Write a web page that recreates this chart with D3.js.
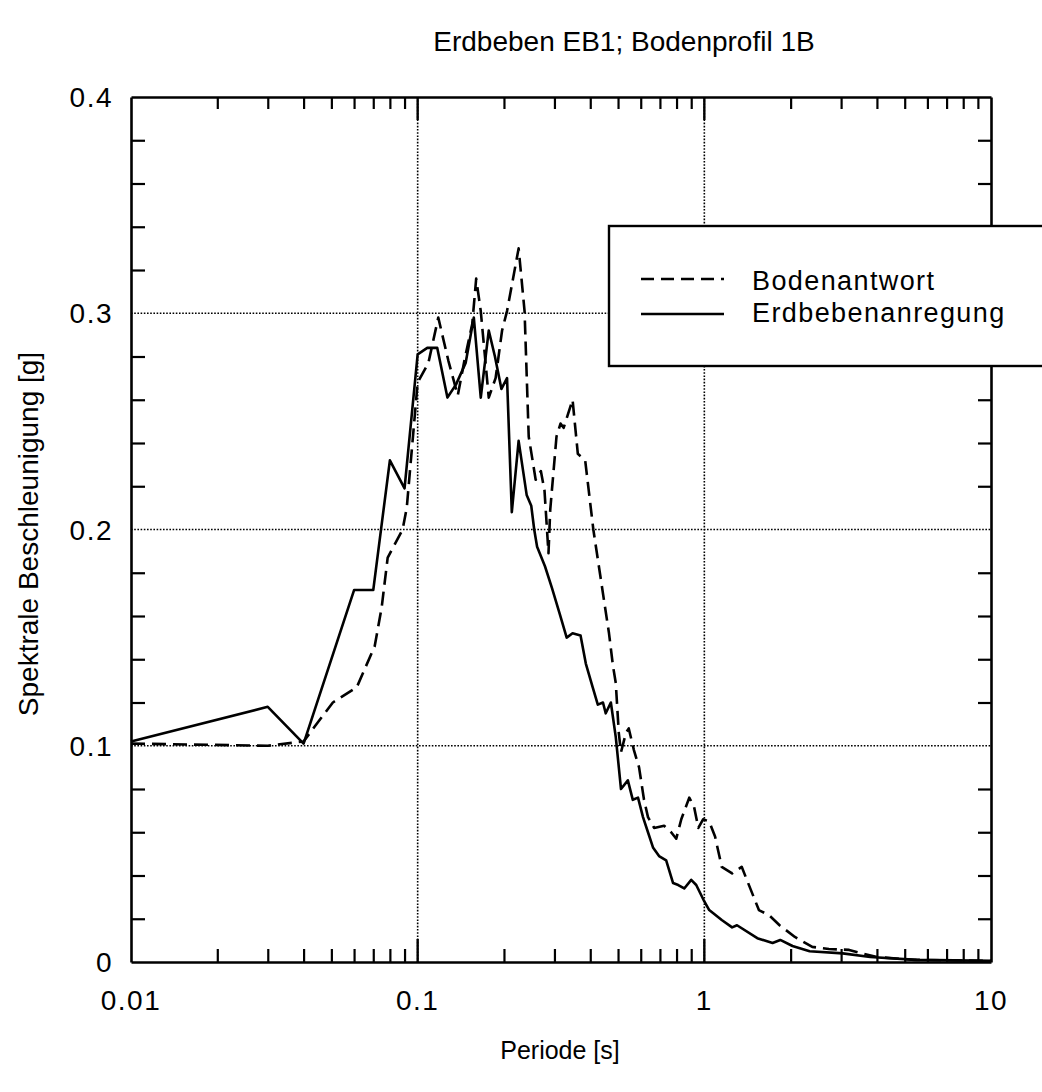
<!DOCTYPE html>
<html>
<head>
<meta charset="utf-8">
<script src="https://cdn.jsdelivr.net/npm/d3@7"></script>
<style>
  html, body { margin: 0; padding: 0; background: #fff; }
  svg { display: block; font-family: "Liberation Sans", Arial, Helvetica, sans-serif; }
</style>
</head>
<body>
<svg id="chart" width="1042" height="1092"></svg>
<script>
// Spectral acceleration vs. period, earthquake EB1, soil profile 1B
const title = "Erdbeben EB1; Bodenprofil 1B";
const xLabel = "Periode [s]";
const yLabel = "Spektrale Beschleunigung [g]";

// Input motion (Erdbebenanregung)
const anregungPeriod = [0.01, 0.03, 0.04, 0.06, 0.07, 0.08, 0.09, 0.1, 0.108, 0.117, 0.127, 0.136, 0.147, 0.157, 0.166, 0.177, 0.186, 0.196, 0.205, 0.213, 0.225, 0.24, 0.249, 0.255, 0.261, 0.278, 0.294, 0.313, 0.331, 0.347, 0.37, 0.386, 0.408, 0.425, 0.443, 0.453, 0.472, 0.491, 0.512, 0.541, 0.563, 0.587, 0.611, 0.636, 0.662, 0.695, 0.736, 0.778, 0.811, 0.851, 0.9, 0.937, 1.0, 1.04, 1.15, 1.25, 1.3, 1.53, 1.73, 1.84, 2.03, 2.33, 3.04, 3.79, 5.5, 10];
const anregungSa = [0.102, 0.118, 0.101, 0.172, 0.172, 0.232, 0.219, 0.281, 0.284, 0.284, 0.261, 0.267, 0.277, 0.298, 0.261, 0.292, 0.280, 0.265, 0.270, 0.208, 0.241, 0.216, 0.211, 0.2, 0.192, 0.183, 0.173, 0.161, 0.150, 0.152, 0.151, 0.138, 0.127, 0.119, 0.120, 0.115, 0.120, 0.104, 0.080, 0.084, 0.075, 0.076, 0.067, 0.060, 0.053, 0.049, 0.047, 0.0365, 0.0356, 0.034, 0.038, 0.0356, 0.028, 0.024, 0.0194, 0.016, 0.017, 0.011, 0.0088, 0.0102, 0.0074, 0.005, 0.004, 0.0023, 0.001, 0.0005];

// Soil response (Bodenantwort)
const antwortPeriod = [0.01, 0.03, 0.04, 0.0438, 0.0506, 0.0613, 0.0708, 0.0749, 0.0786, 0.0886, 0.0916, 0.1, 0.109, 0.118, 0.128, 0.138, 0.146, 0.155, 0.160, 0.166, 0.177, 0.187, 0.197, 0.205, 0.225, 0.236, 0.244, 0.258, 0.269, 0.277, 0.286, 0.29, 0.305, 0.315, 0.323, 0.347, 0.362, 0.384, 0.41, 0.447, 0.465, 0.48, 0.491, 0.503, 0.512, 0.533, 0.545, 0.568, 0.592, 0.616, 0.636, 0.668, 0.724, 0.766, 0.798, 0.831, 0.886, 0.92, 0.953, 0.99, 1.04, 1.09, 1.15, 1.25, 1.35, 1.55, 1.68, 1.83, 2.07, 2.38, 2.72, 3.2, 3.55, 4.0, 5.4, 10];
const antwortSa = [0.101, 0.100, 0.102, 0.109, 0.120, 0.127, 0.146, 0.164, 0.187, 0.200, 0.210, 0.268, 0.277, 0.298, 0.278, 0.262, 0.279, 0.295, 0.316, 0.301, 0.261, 0.270, 0.292, 0.301, 0.330, 0.301, 0.243, 0.223, 0.227, 0.218, 0.189, 0.209, 0.243, 0.249, 0.247, 0.26, 0.235, 0.232, 0.2, 0.167, 0.152, 0.137, 0.129, 0.106, 0.097, 0.106, 0.108, 0.098, 0.090, 0.075, 0.067, 0.062, 0.063, 0.060, 0.057, 0.066, 0.076, 0.072, 0.062, 0.066, 0.065, 0.058, 0.044, 0.041, 0.044, 0.024, 0.0217, 0.017, 0.0116, 0.007, 0.006, 0.0056, 0.004, 0.0023, 0.001, 0.0005];

// Axis ticks
const xMajorTicks = [0.01, 0.1, 1, 10];
const xTickLabels = ["0.01", "0.1", "1", "10"];
const yMajorTicks = [0, 0.1, 0.2, 0.3, 0.4];
const yTickLabels = ["0", "0.1", "0.2", "0.3", "0.4"];
const legendLabels = ["Bodenantwort", "Erdbebenanregung"];

const svg = d3.select("#chart");
const plotLeft = 131, plotRight = 991, plotTop = 97, plotBottom = 962;

const x = d3.scaleLog().domain([0.01, 10]).range([plotLeft, plotRight]);
const y = d3.scaleLinear().domain([0, 0.4]).range([plotBottom, plotTop]);

const minorX = [];
[0.01, 0.1, 1].forEach(d => { for (let k = 2; k <= 9; k++) minorX.push(d * k); });
const minorY = d3.range(0.02, 0.4, 0.02).filter(v => Math.abs(v * 10 - Math.round(v * 10)) > 1e-6);
const gridX = [0.1, 1];
const gridY = [0.1, 0.2, 0.3];

// dotted grid
const grid = svg.append("g").attr("stroke", "#000").attr("stroke-width", 1.6).attr("stroke-dasharray", "1.6,1.6");
grid.selectAll("line.gx").data(gridX).join("line").attr("class", "gx")
  .attr("x1", d => x(d)).attr("x2", d => x(d)).attr("y1", plotTop).attr("y2", plotBottom);
grid.selectAll("line.gy").data(gridY).join("line").attr("class", "gy")
  .attr("x1", plotLeft).attr("x2", plotRight).attr("y1", d => y(d)).attr("y2", d => y(d));

// axes on four sides, ticks pointing inward
const bottomAxis = d3.axisBottom(x).tickValues(minorX).tickSizeInner(-13).tickSizeOuter(0).tickFormat("");
const topAxis = d3.axisTop(x).tickValues(minorX).tickSizeInner(-12).tickSizeOuter(0).tickFormat("");
const leftAxis = d3.axisLeft(y).tickValues(minorY).tickSizeInner(-14).tickSizeOuter(0).tickFormat("");
const rightAxis = d3.axisRight(y).tickValues(minorY).tickSizeInner(-13).tickSizeOuter(0).tickFormat("");

function styleAxis(g) {
  g.select(".domain").attr("stroke", "#000").attr("stroke-width", 2.6);
  g.selectAll(".tick line").attr("stroke", "#000").attr("stroke-width", 2.2);
}
svg.append("g").attr("transform", `translate(0,${plotBottom})`).call(bottomAxis).call(styleAxis);
svg.append("g").attr("transform", `translate(0,${plotTop})`).call(topAxis).call(styleAxis);
svg.append("g").attr("transform", `translate(${plotLeft},0)`).call(leftAxis).call(styleAxis);
svg.append("g").attr("transform", `translate(${plotRight},0)`).call(rightAxis).call(styleAxis);

// longer major ticks at the decades
const major = svg.append("g").attr("stroke", "#000").attr("stroke-width", 2.4);
major.selectAll("line.mb").data(gridX).join("line").attr("class", "mb")
  .attr("x1", d => x(d)).attr("x2", d => x(d)).attr("y1", plotBottom).attr("y2", plotBottom - 23);
major.selectAll("line.mt").data(gridX).join("line").attr("class", "mt")
  .attr("x1", d => x(d)).attr("x2", d => x(d)).attr("y1", plotTop).attr("y2", plotTop + 23);

// tick labels
svg.append("g").selectAll("text").data(xMajorTicks).join("text")
  .attr("x", d => x(d)).attr("y", 1010)
  .attr("text-anchor", "middle").attr("font-size", 28).attr("letter-spacing", 1.5).attr("fill", "#000")
  .text((d, i) => xTickLabels[i]);
svg.append("g").selectAll("text").data(yMajorTicks).join("text")
  .attr("x", 113).attr("y", d => y(d)).attr("dy", "0.36em")
  .attr("text-anchor", "end").attr("font-size", 28).attr("letter-spacing", 1.5).attr("fill", "#000")
  .text((d, i) => yTickLabels[i]);

// curves
const line = d3.line().x(d => x(d[0])).y(d => y(d[1]));
const antwort = d3.zip(antwortPeriod, antwortSa);
const anregung = d3.zip(anregungPeriod, anregungSa);
svg.append("path").datum(anregung).attr("d", line)
  .attr("fill", "none").attr("stroke", "#000").attr("stroke-width", 2.6)
  .attr("stroke-linejoin", "round");
svg.append("path").datum(antwort).attr("d", line)
  .attr("fill", "none").attr("stroke", "#000").attr("stroke-width", 2.6)
  .attr("stroke-dasharray", "14,7").attr("stroke-linejoin", "round");

// legend
const legend = svg.append("g");
legend.append("rect").attr("x", 609).attr("y", 226).attr("width", 460).attr("height", 140)
  .attr("fill", "#fff").attr("stroke", "#000").attr("stroke-width", 2.4);
legend.append("line").attr("x1", 641).attr("x2", 724).attr("y1", 279).attr("y2", 279)
  .attr("stroke", "#000").attr("stroke-width", 2.4).attr("stroke-dasharray", "13,7");
legend.append("line").attr("x1", 641).attr("x2", 724).attr("y1", 314).attr("y2", 314)
  .attr("stroke", "#000").attr("stroke-width", 2.4);
legend.selectAll("text").data(legendLabels).join("text")
  .attr("x", 752).attr("y", (d, i) => 290 + i * 32)
  .attr("font-size", 27).attr("letter-spacing", 1.4).attr("fill", "#000").text(d => d);

// titles
svg.append("text").attr("x", 624).attr("y", 51).attr("text-anchor", "middle")
  .attr("font-size", 28).attr("fill", "#000").text(title);
svg.append("text").attr("x", 560).attr("y", 1059).attr("text-anchor", "middle")
  .attr("font-size", 25).attr("fill", "#000").text(xLabel);
svg.append("text").attr("transform", "translate(38,534) rotate(-90)").attr("text-anchor", "middle")
  .attr("font-size", 28).attr("fill", "#000").text(yLabel);
</script>
</body>
</html>
